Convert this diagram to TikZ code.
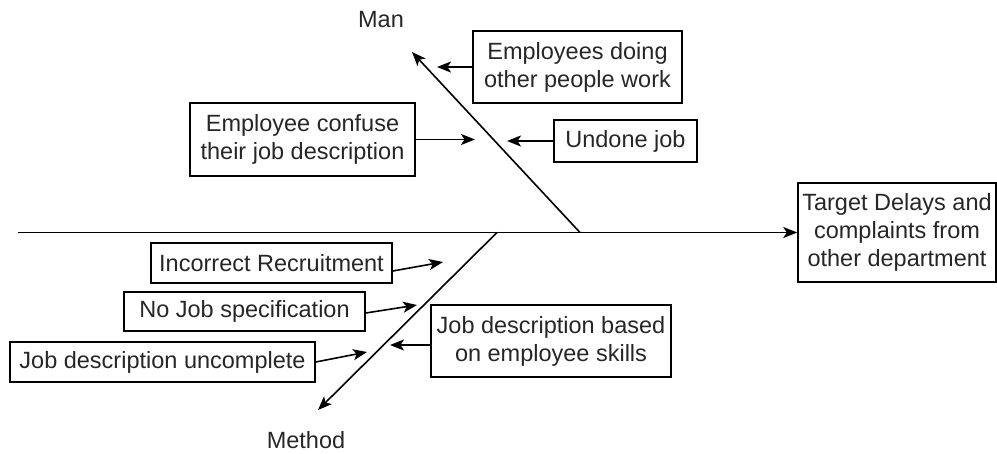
\documentclass[tikz,border=0pt]{standalone}
\usepackage{fontspec}
\setmainfont{Liberation Sans}
\usetikzlibrary{arrows.meta}
\begin{document}
\begin{tikzpicture}[x=1pt,y=-1pt,
    box/.style={draw,line width=1.5pt,align=center,inner sep=0pt,text=black!85,font=\fontsize{23.5}{28}\selectfont},
    lbl/.style={text=black!85,font=\fontsize{23.5}{28}\selectfont},
    tip/.style={-{Stealth[length=14pt,width=11pt,inset=3.5pt]},line width=1.6pt}]
            \useasboundingbox (0,0) rectangle (997,453);
            % effect and spine
            \node[box,minimum width=198pt,minimum height=99pt] (t) at (897,232.5) {Target Delays and\\complaints from\\other department};
            \coordinate (s) at (18,232.5);
            \draw[tip] (s) -- (t.west);
            % bones
            \coordinate (m0) at (580,232.5);
            \coordinate (m1) at (412,52);
            \draw[tip] (m0) -- (m1);
            \coordinate (d0) at (497,232.5);
            \coordinate (d1) at (318,410);
            \draw[tip] (d0) -- (d1);
            \node[lbl] (man) at (381,20) {Man};
            \node[lbl] (method) at (306,440) {Method};
            % causes of Man
            \node[box,minimum width=209pt,minimum height=72pt] (a) at (577.5,67) {Employees doing\\other people work};
            \coordinate (a1) at (437,67);
            \draw[tip] (a.west) -- (a1);
            \node[box,minimum width=225pt,minimum height=73pt] (b) at (302.5,139.5) {Employee confuse\\their job description};
            \coordinate (b1) at (475,139.5);
            \draw[tip] (b.east) -- (b1);
            \node[box,minimum width=143pt,minimum height=42pt] (c) at (625.5,141) {Undone job};
            \coordinate (c1) at (507,141);
            \draw[tip] (c.west) -- (c1);
            % causes of Method
            \node[box,minimum width=241pt,minimum height=40pt] (d) at (271.5,263) {Incorrect Recruitment};
            \coordinate (d2) at (443,262);
            \draw[tip] ([yshift=-8pt]d.east) -- (d2);
            \node[box,minimum width=241pt,minimum height=39pt] (e) at (244.5,311.5) {No Job specification};
            \coordinate (e1) at (417,305);
            \draw[tip] ([yshift=-1.5pt]e.east) -- (e1);
            \node[box,minimum width=305pt,minimum height=40pt] (f) at (162.5,362) {Job description uncomplete};
            \coordinate (f1) at (367,352);
            \draw[tip] (f.east) -- (f1);
            \node[box,minimum width=240pt,minimum height=72pt] (g) at (551,341) {Job description based\\on employee skills};
            \coordinate (g1) at (390,345);
            \draw[tip] ([yshift=-4pt]g.west) -- (g1);
\end{tikzpicture}
\end{document}
